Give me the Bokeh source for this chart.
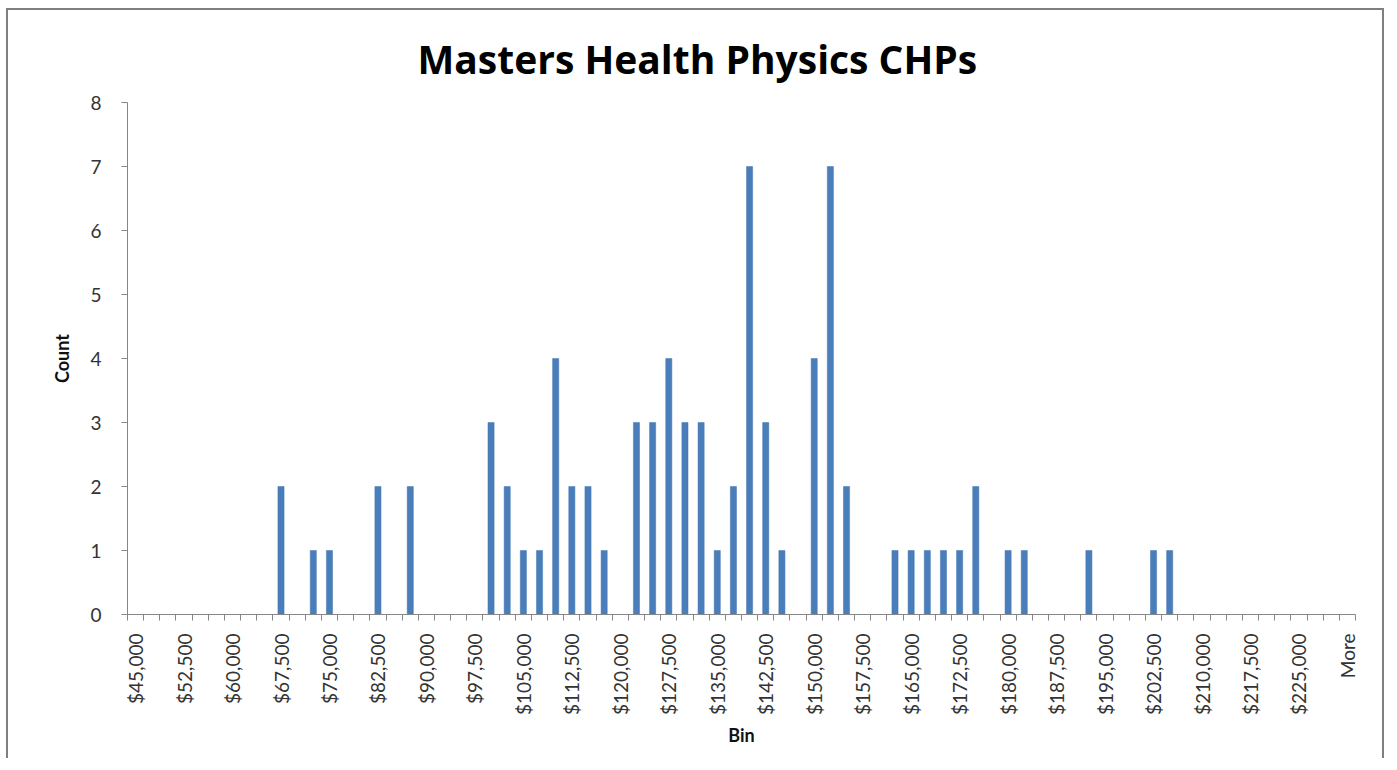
import math
from bokeh.plotting import figure
from bokeh.models import Range1d, FixedTicker, ColumnDataSource
from bokeh.embed import file_html
from bokeh.resources import INLINE

# ---- data ----
bins = [
    "$45,000", "$47,500", "$50,000", "$52,500", "$55,000", "$57,500", "$60,000", "$62,500", "$65,000", "$67,500",
    "$70,000", "$72,500", "$75,000", "$77,500", "$80,000", "$82,500", "$85,000", "$87,500", "$90,000", "$92,500",
    "$95,000", "$97,500", "$100,000", "$102,500", "$105,000", "$107,500", "$110,000", "$112,500", "$115,000", "$117,500",
    "$120,000", "$122,500", "$125,000", "$127,500", "$130,000", "$132,500", "$135,000", "$137,500", "$140,000", "$142,500",
    "$145,000", "$147,500", "$150,000", "$152,500", "$155,000", "$157,500", "$160,000", "$162,500", "$165,000", "$167,500",
    "$170,000", "$172,500", "$175,000", "$177,500", "$180,000", "$182,500", "$185,000", "$187,500", "$190,000", "$192,500",
    "$195,000", "$197,500", "$200,000", "$202,500", "$205,000", "$207,500", "$210,000", "$212,500", "$215,000", "$217,500",
    "$220,000", "$222,500", "$225,000", "$227,500", "$230,000", "More",
]
counts = [
    0, 0, 0, 0, 0, 0, 0, 0, 0, 2,
    0, 1, 1, 0, 0, 2, 0, 2, 0, 0,
    0, 0, 3, 2, 1, 1, 4, 2, 2, 1,
    0, 3, 3, 4, 3, 3, 1, 2, 7, 3,
    1, 0, 4, 7, 2, 0, 0, 1, 1, 1,
    1, 1, 2, 0, 1, 1, 0, 0, 0, 1,
    0, 0, 0, 1, 1, 0, 0, 0, 0, 0,
    0, 0, 0, 0, 0, 0,
]
y_ticks = [0, 1, 2, 3, 4, 5, 6, 7, 8]
label_step = 3

title_text = "Masters Health Physics CHPs"
x_label = "Bin"
y_label = "Count"

FONT = "Lato"
AXIS_GRAY = "#868686"
TEXT_DARK = "#333333"

n = len(bins)
# category slot k occupies [k, k+1] on the axis; its bar is centred in the slot
centres = [k + 0.5 for k in range(n)]
src = ColumnDataSource(dict(x=centres, top=counts, bin=bins))


def hang(s):
    # lead with figure spaces so every rotated label hangs from the axis line
    pad = max(0, 8 - len(s)) if s.startswith("$") else 3
    return "\u2007" * pad + s


p = figure(
    width=1378, height=750,
    x_range=Range1d(0, n),
    y_range=Range1d(y_ticks[0], y_ticks[-1]),
    output_backend="svg", toolbar_location=None,
    min_border_left=119, min_border_right=31,
    min_border_top=92, min_border_bottom=146,
    title=title_text,
)
p.styles = {
    "margin-left": "6px",
    "margin-top": "8px",
    "border-top": "2px solid #7f7f7f",
    "border-left": "2px solid #7f7f7f",
    "border-right": "2px solid #7f7f7f",
}

p.vbar(x="x", top="top", source=src, width=0.38,
       fill_color="#4A7EBB", line_color="#4676B0", line_width=0.5)

# x axis: labels at every third bin centre, tick marks at bin boundaries
xaxis = p.xaxis[0]
xaxis.ticker = FixedTicker(ticks=centres[::label_step], minor_ticks=list(range(n + 1)))
xaxis.major_label_overrides = {centres[k]: hang(bins[k]) for k in range(0, n, label_step)}
xaxis.major_label_orientation = math.pi / 2
xaxis.axis_label = x_label
xaxis.major_tick_out = 0
xaxis.major_tick_in = 0
xaxis.minor_tick_out = 6
xaxis.minor_tick_in = 0
xaxis.minor_tick_line_color = AXIS_GRAY
xaxis.axis_line_color = AXIS_GRAY
xaxis.major_label_standoff = 13
xaxis.major_label_text_font = FONT
xaxis.major_label_text_font_size = "19px"
xaxis.major_label_text_color = TEXT_DARK
xaxis.axis_label_text_font = FONT
xaxis.axis_label_text_font_style = "bold"
xaxis.axis_label_text_font_size = "18px"
xaxis.axis_label_text_color = "#111111"
xaxis.axis_label_standoff = 6

# y axis
yaxis = p.yaxis[0]
yaxis.ticker = FixedTicker(ticks=y_ticks, minor_ticks=[])
yaxis.axis_label = y_label
yaxis.axis_line_color = AXIS_GRAY
yaxis.major_tick_line_color = AXIS_GRAY
yaxis.major_tick_out = 6
yaxis.major_tick_in = 0
yaxis.major_label_standoff = 20
yaxis.major_label_text_font = FONT
yaxis.major_label_text_font_size = "19px"
yaxis.major_label_text_color = TEXT_DARK
yaxis.axis_label_text_font = FONT
yaxis.axis_label_text_font_style = "bold"
yaxis.axis_label_text_font_size = "18px"
yaxis.axis_label_text_color = "#111111"
yaxis.axis_label_standoff = 14

p.grid.visible = False
p.outline_line_color = None

p.title.align = "left"
p.title.offset = 290
p.title.text_font = "Open Sans"
p.title.text_font_style = "bold"
p.title.text_font_size = "39px"
p.title.text_color = "#000000"
p.title.standoff = 35

open("out.html", "w").write(file_html(p, INLINE))
